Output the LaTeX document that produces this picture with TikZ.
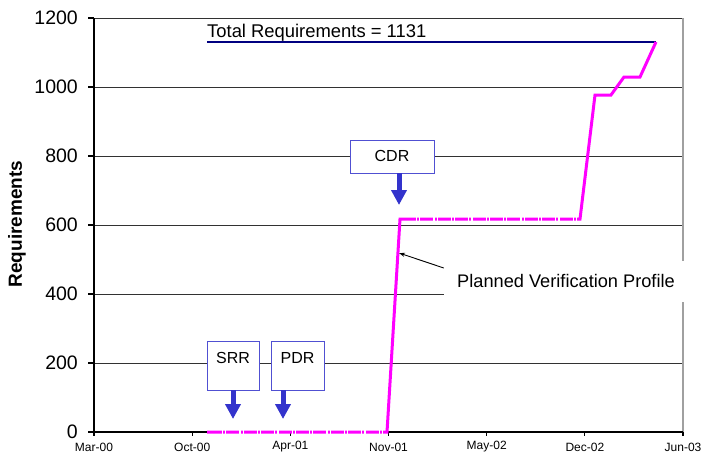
\documentclass[tikz,border=0pt]{standalone}
\usepackage{fontspec}
\setmainfont{Liberation Sans}
\usetikzlibrary{arrows.meta,calc}

\definecolor{gridgray}{RGB}{50,50,50}
\definecolor{bordergray}{RGB}{160,160,160}
\definecolor{profile}{RGB}{255,0,255}
\definecolor{totalblue}{RGB}{0,0,128}
\definecolor{boxedge}{RGB}{80,80,210}
\definecolor{markblue}{RGB}{51,51,204}

\tikzset{
  gridline/.style={draw=gridgray, line width=0.9pt},
  axisline/.style={draw=black, line width=1.2pt},
  ticklabel/.style={font=\fontsize{19.5}{20}\selectfont, anchor=east, inner sep=0pt},
  datelabel/.style={font=\fontsize{12}{13}\selectfont, inner sep=0pt},
  reviewbox/.style={draw=boxedge, line width=0.9pt, fill=white,
    font=\fontsize{16}{17}\selectfont, inner xsep=0pt, text height=11.5pt},
  downarrow/.style={draw=markblue, line width=5pt,
    -{Triangle[width=15pt,length=15pt]}},
  profileline/.style={draw=profile, line width=3pt},
  % thin white breaks laid over the flat stretches of the profile
  profilebreaks/.style={draw=white, line width=3.2pt,
    dash pattern=on 1.2pt off 2pt on 1.2pt off 13pt, dash phase=-13pt},
}

\begin{document}
\begin{tikzpicture}[x=1pt,y=-1pt]
\useasboundingbox (0,0) rectangle (701,455);

% horizontal grid lines (200 requirements apart)
\foreach \yy in {18,87,156,225,294,363}
  \draw[gridline] (94,\yy) -- (683,\yy);

% right frame edge
\draw[draw=bordergray, line width=1.6pt] (683,18) -- (683,432);

% axes
\draw[axisline] (94,18) -- (94,436);
\draw[axisline] (88,432) -- (683,432);

% y ticks and labels
\foreach \v/\yy in {0/432,200/363,400/294,600/225,800/156,1000/87,1200/18} {
  \draw[axisline] (88,\yy) -- (94,\yy);
  \node[ticklabel] (ylab\v) at (78,\yy) {\v};
}

% x ticks and date labels, seven months apart
\foreach \lab [count=\i from 0] in {Mar-00,Oct-00,Apr-01,Nov-01,May-02,Dec-02,Jun-03} {
  \pgfmathsetmacro{\xx}{94+98.17*\i}
  \draw[axisline] (\xx,432) -- (\xx,436);
  \node[datelabel] (xlab\i) at (\xx,447) {\lab};
}

% axis title
\node[rotate=90, font=\bfseries\fontsize{19}{20}\selectfont, inner sep=0pt]
  (ytitle) at (17,224) {Requirements};

% total requirements line and its caption
\node[anchor=base west, inner sep=0pt, font=\fontsize{18.4}{19}\selectfont]
  (totallab) at (207,37) {Total Requirements = 1131};
\coordinate (tstart) at (207,42);
\coordinate (tend) at (656,42);
\draw[draw=totalblue, line width=2.8pt] (tstart) -- (tend);

% planned verification profile
\coordinate (p0) at (207,432);
\coordinate (p1) at (387,432);
\coordinate (p2) at (400,219);
\coordinate (p3) at (580,219);
\coordinate (p4) at (595,95);
\coordinate (p5) at (611,95);
\coordinate (p6) at (624,77);
\coordinate (p7) at (640,77);
\coordinate (p8) at (656,42);
\draw[profileline] (p0) -- (p1) -- (p2) -- (p3) -- (p4) -- (p5) -- (p6) -- (p7) -- (p8);
\draw[profilebreaks] ([xshift=2pt]p0) -- ([xshift=-3pt]p1);
\draw[profilebreaks] ([xshift=3pt]p2) -- ([xshift=-3pt]p3);
\draw[profilebreaks] ([xshift=3pt]p4) -- ([xshift=-3pt]p5);
\draw[profilebreaks] ([xshift=3pt]p6) -- ([xshift=-3pt]p7);

% profile annotation on a white patch
\node[fill=white, minimum width=244pt, minimum height=41pt, inner sep=0pt,
  font=\fontsize{18.2}{19}\selectfont] (plabel) at (566,281)
  {Planned Verification Profile};
\coordinate (ptip) at (399,253);
\draw[line width=0.9pt, -{Stealth[length=6pt,width=4pt]}]
  ([yshift=13pt]plabel.west) -- (ptip);

% review milestones
\node[reviewbox, minimum width=52pt, text depth=16.5pt, inner ysep=10.5pt]
  (srr) at (233,365.5) {SRR};
\node[reviewbox, minimum width=53pt, text depth=16.5pt, inner ysep=10.5pt]
  (pdr) at (297.5,365.5) {PDR};
\node[reviewbox, minimum width=84pt, text depth=1.5pt, inner ysep=10pt]
  (cdr) at (392,156.5) {CDR};

\coordinate (srrtip) at (233,419);
\coordinate (pdrtip) at (283,419);
\coordinate (cdrtip) at (399,205);
\draw[downarrow] (srr.south) -- (srrtip);
\draw[downarrow] (pdr.south -| pdrtip) -- (pdrtip);
\draw[downarrow] (cdr.south -| cdrtip) -- (cdrtip);
\end{tikzpicture}
\end{document}
